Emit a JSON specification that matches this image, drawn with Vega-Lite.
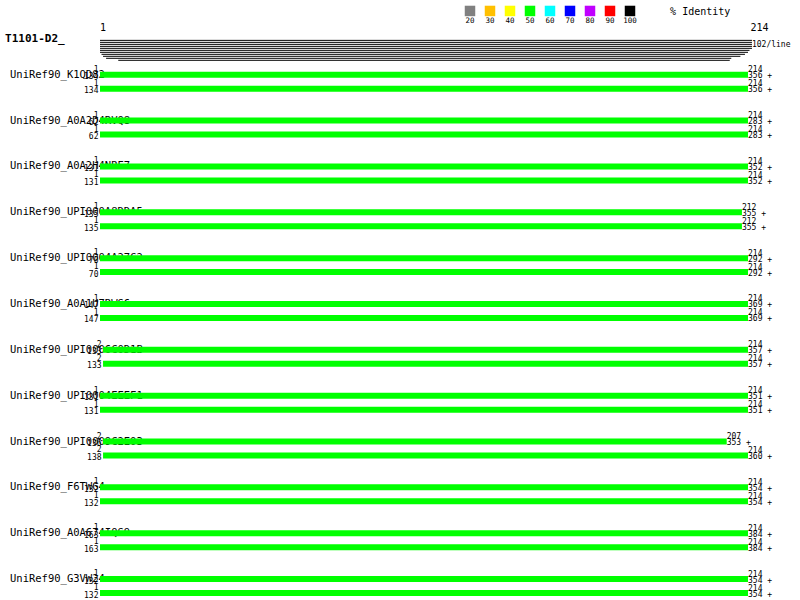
{
  "$schema": "https://vega.github.io/schema/vega-lite/v6.json",
  "width": 800,
  "height": 600,
  "padding": 0,
  "autosize": {"type": "fit", "contains": "padding"},
  "background": "white",
  "config": {"view": {"stroke": null}, "text": {"font": "DejaVu Sans Mono"}},
  "datasets": {
    "hits": [
      {"g": 1, "bar": 1, "name": "UniRef90_K1QD82", "y": 75, "qs": 1, "qe": 214, "lt": "1", "lb": "134", "rt": "214", "rb": "356 +"},
      {"g": 1, "bar": 2, "name": "", "y": 89, "qs": 1, "qe": 214, "lt": "1", "lb": "134", "rt": "214", "rb": "356 +"},
      {"g": 2, "bar": 1, "name": "UniRef90_A0A2D4RVQ8", "y": 121, "qs": 1, "qe": 214, "lt": "1", "lb": "62", "rt": "214", "rb": "283 +"},
      {"g": 2, "bar": 2, "name": "", "y": 135, "qs": 1, "qe": 214, "lt": "1", "lb": "62", "rt": "214", "rb": "283 +"},
      {"g": 3, "bar": 1, "name": "UniRef90_A0A2H4NRE7", "y": 167, "qs": 1, "qe": 214, "lt": "1", "lb": "131", "rt": "214", "rb": "352 +"},
      {"g": 3, "bar": 2, "name": "", "y": 181, "qs": 1, "qe": 214, "lt": "1", "lb": "131", "rt": "214", "rb": "352 +"},
      {"g": 4, "bar": 1, "name": "UniRef90_UPI000A8DDA5", "y": 213, "qs": 1, "qe": 212, "lt": "1", "lb": "135", "rt": "212", "rb": "355 +"},
      {"g": 4, "bar": 2, "name": "", "y": 227, "qs": 1, "qe": 212, "lt": "1", "lb": "135", "rt": "212", "rb": "355 +"},
      {"g": 5, "bar": 1, "name": "UniRef90_UPI0004A27C2", "y": 259, "qs": 1, "qe": 214, "lt": "1", "lb": "70", "rt": "214", "rb": "292 +"},
      {"g": 5, "bar": 2, "name": "", "y": 273, "qs": 1, "qe": 214, "lt": "1", "lb": "70", "rt": "214", "rb": "292 +"},
      {"g": 6, "bar": 1, "name": "UniRef90_A0A1U7RWS6", "y": 305, "qs": 1, "qe": 214, "lt": "1", "lb": "147", "rt": "214", "rb": "369 +"},
      {"g": 6, "bar": 2, "name": "", "y": 319, "qs": 1, "qe": 214, "lt": "1", "lb": "147", "rt": "214", "rb": "369 +"},
      {"g": 7, "bar": 1, "name": "UniRef90_UPI0006C0D1B", "y": 351, "qs": 2, "qe": 214, "lt": "2", "lb": "133", "rt": "214", "rb": "357 +"},
      {"g": 7, "bar": 2, "name": "", "y": 365, "qs": 2, "qe": 214, "lt": "2", "lb": "133", "rt": "214", "rb": "357 +"},
      {"g": 8, "bar": 1, "name": "UniRef90_UPI0004EEEF1", "y": 397, "qs": 1, "qe": 214, "lt": "1", "lb": "131", "rt": "214", "rb": "351 +"},
      {"g": 8, "bar": 2, "name": "", "y": 411, "qs": 1, "qe": 214, "lt": "1", "lb": "131", "rt": "214", "rb": "351 +"},
      {"g": 9, "bar": 1, "name": "UniRef90_UPI0009C2E03", "y": 443, "qs": 2, "qe": 207, "lt": "2", "lb": "136", "rt": "207", "rb": "353 +"},
      {"g": 9, "bar": 2, "name": "", "y": 457, "qs": 2, "qe": 214, "lt": "2", "lb": "138", "rt": "214", "rb": "360 +"},
      {"g": 10, "bar": 1, "name": "UniRef90_F6TWG4", "y": 489, "qs": 1, "qe": 214, "lt": "1", "lb": "132", "rt": "214", "rb": "354 +"},
      {"g": 10, "bar": 2, "name": "", "y": 503, "qs": 1, "qe": 214, "lt": "1", "lb": "132", "rt": "214", "rb": "354 +"},
      {"g": 11, "bar": 1, "name": "UniRef90_A0A674IQS9", "y": 535, "qs": 1, "qe": 214, "lt": "1", "lb": "163", "rt": "214", "rb": "384 +"},
      {"g": 11, "bar": 2, "name": "", "y": 549, "qs": 1, "qe": 214, "lt": "1", "lb": "163", "rt": "214", "rb": "384 +"},
      {"g": 12, "bar": 1, "name": "UniRef90_G3VW24", "y": 581, "qs": 1, "qe": 214, "lt": "1", "lb": "132", "rt": "214", "rb": "354 +"},
      {"g": 12, "bar": 2, "name": "", "y": 595, "qs": 1, "qe": 214, "lt": "1", "lb": "132", "rt": "214", "rb": "354 +"}
    ],
    "coverage": [
      {"y": 40.5, "s": 1, "e": 215.3},
      {"y": 42.5, "s": 1, "e": 215.3},
      {"y": 44.5, "s": 1, "e": 215.3},
      {"y": 46.5, "s": 1, "e": 215.3},
      {"y": 48.5, "s": 1, "e": 215.3},
      {"y": 50.5, "s": 1, "e": 214.5},
      {"y": 52.5, "s": 1, "e": 214},
      {"y": 54.5, "s": 1.5, "e": 213},
      {"y": 56.5, "s": 2, "e": 211.5},
      {"y": 58.5, "s": 3, "e": 208.5},
      {"y": 60.5, "s": 7, "e": 208}
    ],
    "header": [
      {"x": -30.2, "y": 39, "t": "T1101-D2_", "kind": "title"},
      {"x": 1, "y": 28, "t": "1", "kind": "pos"},
      {"x": 214.8, "y": 28, "t": "214", "kind": "pos"},
      {"x": 188.4, "y": 12, "t": "% Identity", "kind": "pos"},
      {"x": 215.3, "y": 45.5, "t": "102/line", "kind": "small"}
    ],
    "legend": [
      {"pct": "20", "color": "#808080"},
      {"pct": "30", "color": "#FFC000"},
      {"pct": "40", "color": "#FFFF00"},
      {"pct": "50", "color": "#00FF00"},
      {"pct": "60", "color": "#00FFFF"},
      {"pct": "70", "color": "#0000FF"},
      {"pct": "80", "color": "#C000FF"},
      {"pct": "90", "color": "#FF0000"},
      {"pct": "100", "color": "#000000"}
    ]
  },
  "layer": [
    {
      "encoding": {
        "y": {"field": "y", "type": "quantitative", "scale": {"domain": [0, 600], "reverse": true, "nice": false, "zero": false}, "axis": null}
      },
      "layer": [
        {
          "data": {"name": "hits"},
          "transform": [{"filter": "datum.bar == 1"}],
          "mark": {"type": "text", "align": "left", "baseline": "middle", "fontSize": 10.5, "font": "DejaVu Sans Mono", "color": "black"},
          "encoding": {
            "x": {"datum": -28.58, "type": "quantitative", "scale": {"domain": [-31.87, 231.09], "nice": false, "zero": false}, "axis": null},
            "text": {"field": "name"}
          }
        },
        {
          "data": {"name": "coverage"},
          "mark": {"type": "rule", "color": "black", "strokeWidth": 1, "strokeCap": "butt"},
          "encoding": {
            "x": {"field": "s", "type": "quantitative"},
            "x2": {"field": "e"}
          }
        },
        {
          "data": {"name": "hits"},
          "mark": {"type": "rule", "color": "#00FF00", "strokeWidth": 6, "strokeCap": "butt"},
          "encoding": {
            "x": {"field": "qs", "type": "quantitative"},
            "x2": {"field": "qe"}
          }
        },
        {
          "data": {"name": "hits"},
          "mark": {"type": "text", "align": "right", "baseline": "middle", "fontSize": 8, "dx": -1.5, "dy": -5, "color": "black"},
          "encoding": {"x": {"field": "qs", "type": "quantitative"}, "text": {"field": "lt"}}
        },
        {
          "data": {"name": "hits"},
          "mark": {"type": "text", "align": "right", "baseline": "middle", "fontSize": 8, "dx": -1.5, "dy": 2.5, "color": "black"},
          "encoding": {"x": {"field": "qs", "type": "quantitative"}, "text": {"field": "lb"}}
        },
        {
          "data": {"name": "hits"},
          "mark": {"type": "text", "align": "left", "baseline": "middle", "fontSize": 8, "dx": 0, "dy": -4.5, "color": "black"},
          "encoding": {"x": {"field": "qe", "type": "quantitative"}, "text": {"field": "rt"}}
        },
        {
          "data": {"name": "hits"},
          "mark": {"type": "text", "align": "left", "baseline": "middle", "fontSize": 8, "dx": 0, "dy": 1.5, "color": "black"},
          "encoding": {"x": {"field": "qe", "type": "quantitative"}, "text": {"field": "rb"}}
        },
        {
          "data": {"name": "header"},
          "transform": [{"filter": "datum.kind == 'title'"}],
          "mark": {"type": "text", "align": "left", "baseline": "middle", "fontSize": 11, "fontWeight": "bold", "color": "black"},
          "encoding": {"x": {"field": "x", "type": "quantitative"}, "text": {"field": "t"}}
        },
        {
          "data": {"name": "header"},
          "transform": [{"filter": "datum.kind == 'pos'"}],
          "mark": {"type": "text", "align": "left", "baseline": "middle", "fontSize": 10, "color": "black"},
          "encoding": {"x": {"field": "x", "type": "quantitative"}, "text": {"field": "t"}}
        },
        {
          "data": {"name": "header"},
          "transform": [{"filter": "datum.kind == 'small'"}],
          "mark": {"type": "text", "align": "left", "baseline": "middle", "fontSize": 8, "color": "black"},
          "encoding": {"x": {"field": "x", "type": "quantitative"}, "text": {"field": "t"}}
        }
      ]
    },
    {
      "data": {"name": "legend"},
      "encoding": {
        "x": {"field": "pct", "type": "ordinal", "sort": null, "scale": {"type": "point", "range": [470, 630], "padding": 0}, "axis": null}
      },
      "layer": [
        {
          "mark": {"type": "square", "filled": true, "size": 110, "opacity": 1},
          "encoding": {
            "y": {"datum": 11, "type": "quantitative"},
            "color": {"field": "color", "type": "nominal", "scale": null, "legend": null}
          }
        },
        {
          "mark": {"type": "text", "align": "center", "baseline": "middle", "fontSize": 7.5, "color": "black"},
          "encoding": {
            "y": {"datum": 21, "type": "quantitative"},
            "text": {"field": "pct"}
          }
        }
      ]
    }
  ],
  "resolve": {"scale": {"x": "independent"}}
}
